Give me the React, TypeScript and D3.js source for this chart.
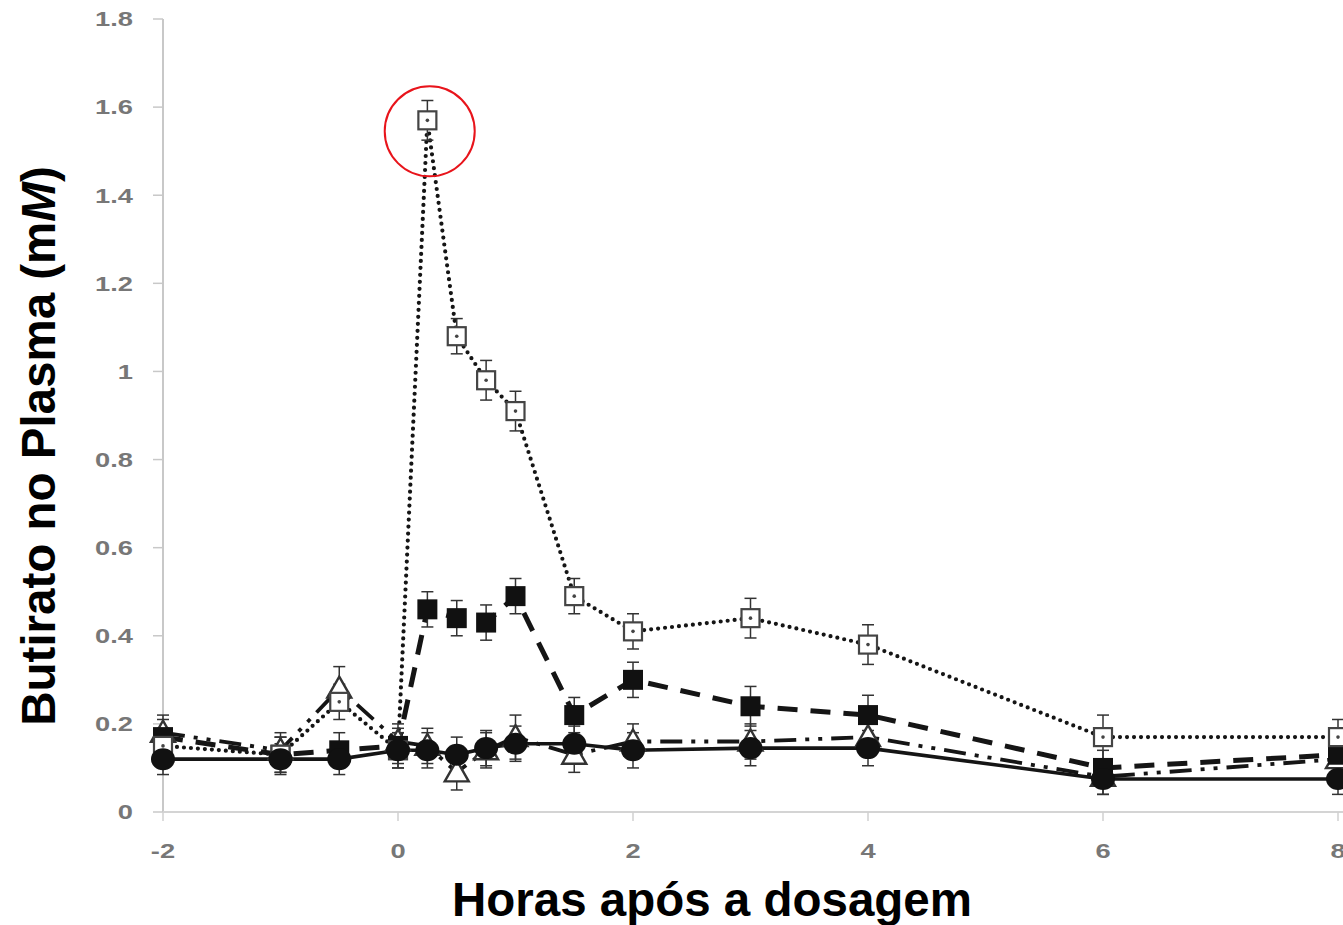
import React from "react";
import * as d3 from "d3";

const hours = [-2, -1, -0.5, 0, 0.25, 0.5, 0.75, 1, 1.5, 2, 3, 4, 6, 8];
const openSquare = [0.15, 0.13, 0.25, 0.14, 1.57, 1.08, 0.98, 0.91, 0.49, 0.41, 0.44, 0.38, 0.17, 0.17];
const openSquareErr = [0.04, 0.04, 0.04, 0.04, 0.045, 0.04, 0.045, 0.045, 0.04, 0.04, 0.045, 0.045, 0.05, 0.04];
const filledSquare = [0.17, 0.13, 0.14, 0.15, 0.46, 0.44, 0.43, 0.49, 0.22, 0.3, 0.24, 0.22, 0.1, 0.13];
const filledSquareErr = [0.04, 0.04, 0.04, 0.04, 0.04, 0.04, 0.04, 0.04, 0.04, 0.04, 0.045, 0.045, 0.04, 0.04];
const openTriangle = [0.18, 0.14, 0.28, 0.16, 0.15, 0.09, 0.14, 0.17, 0.13, 0.16, 0.16, 0.17, 0.08, 0.12];
const openTriangleErr = [0.04, 0.04, 0.05, 0.04, 0.04, 0.04, 0.04, 0.05, 0.04, 0.04, 0.04, 0.04, 0.04, 0.04];
const filledCircle = [0.12, 0.12, 0.12, 0.14, 0.14, 0.13, 0.145, 0.155, 0.155, 0.14, 0.145, 0.145, 0.075, 0.075];
const filledCircleErr = [0.035, 0.035, 0.035, 0.04, 0.04, 0.04, 0.04, 0.04, 0.04, 0.04, 0.04, 0.04, 0.035, 0.035];

const yTicks = [0, 0.2, 0.4, 0.6, 0.8, 1, 1.2, 1.4, 1.6, 1.8];
const xTicks = [-2, 0, 2, 4, 6, 8];
const xTitle = "Horas após a dosagem";
const highlight = { hour: 0.27, value: 1.545 };

const W = 1343;
const H = 925;

export default function App() {
  const x = d3.scaleLinear().domain([-2, 8]).range([163, 1338]);
  const y = d3.scaleLinear().domain([0, 1.8]).range([812, 19]);
  const line = d3
    .line<number>()
    .x((_, i) => x(hours[i]))
    .y((v) => y(v));

  const series = [
    { key: "tri", values: openTriangle, err: openTriangleErr, dash: "22 9 4 9 4 9", width: 3.8, cap: "butt" },
    { key: "fsq", values: filledSquare, err: filledSquareErr, dash: "20 13", width: 5, cap: "butt" },
    { key: "osq", values: openSquare, err: openSquareErr, dash: "0 7", width: 4.2, cap: "round" },
    { key: "cir", values: filledCircle, err: filledCircleErr, dash: "none", width: 3.6, cap: "butt" },
  ];

  const markerFor = (key: string, cx: number, cy: number, i: number) => {
    if (key === "osq")
      return (
        <g key={key + i}>
          <rect x={cx - 9} y={cy - 9} width={18} height={18} fill="#fff" stroke="#444" strokeWidth={2.2} />
          <circle cx={cx} cy={cy} r={1.8} fill="#444" />
        </g>
      );
    if (key === "fsq")
      return <rect key={key + i} x={cx - 10} y={cy - 10} width={20} height={20} fill="#111" />;
    if (key === "tri")
      return (
        <path
          key={key + i}
          d={`M${cx},${cy - 12} L${cx + 12},${cy + 9} L${cx - 12},${cy + 9} Z`}
          fill="#fff"
          stroke="#333"
          strokeWidth={2.4}
        />
      );
    return <ellipse key={key + i} cx={cx} cy={cy} rx={12} ry={11} fill="#111" />;
  };

  return (
    <div style={{ position: "absolute", left: 0, top: 0, width: W, height: H, background: "#fff" }}>
      <svg width={W} height={H} style={{ display: "block" }}>
        <rect width={W} height={H} fill="#fff" />
        {/* axes */}
        <line x1={x(-2)} x2={x(-2)} y1={y(1.8)} y2={y(0)} stroke="#c8c8c8" strokeWidth={2} />
        <line x1={x(-2)} x2={W} y1={y(0)} y2={y(0)} stroke="#d4d4d4" strokeWidth={2} />
        {yTicks.map((t) => (
          <g key={"yt" + t}>
            <line x1={x(-2) - 10} x2={x(-2)} y1={y(t)} y2={y(t)} stroke="#c8c8c8" strokeWidth={1.5} />
            <text
              transform={`translate(133,${y(t)}) scale(1.3,1)`}
              textAnchor="end"
              dominantBaseline="central"
              fontFamily="Liberation Sans, Arial, sans-serif"
              fontWeight="bold"
              fontSize={21}
              fill="#777"
            >
              {String(t)}
            </text>
          </g>
        ))}
        {xTicks.map((t) => (
          <g key={"xt" + t}>
            <line x1={x(t)} x2={x(t)} y1={y(0)} y2={y(0) + 9} stroke="#d0d0d0" strokeWidth={1.5} />
            <text
              transform={`translate(${x(t)},851) scale(1.3,1)`}
              textAnchor="middle"
              dominantBaseline="central"
              fontFamily="Liberation Sans, Arial, sans-serif"
              fontWeight="bold"
              fontSize={21}
              fill="#777"
            >
              {String(t)}
            </text>
          </g>
        ))}
        {/* lines */}
        {series.map((s) => (
          <path
            key={"l" + s.key}
            d={line(s.values) || ""}
            fill="none"
            stroke="#151515"
            strokeWidth={s.width}
            strokeDasharray={s.dash}
            strokeLinecap={s.cap as any}
          />
        ))}
        {/* error bars */}
        {series.map((s) =>
          s.values.map((v, i) => {
            const cx = x(hours[i]);
            const top = y(v + s.err[i]);
            const bot = y(v - s.err[i]);
            return (
              <g key={"e" + s.key + i} stroke="#333" strokeWidth={1.5}>
                <line x1={cx} x2={cx} y1={top} y2={bot} />
                <line x1={cx - 6} x2={cx + 6} y1={top} y2={top} />
                <line x1={cx - 6} x2={cx + 6} y1={bot} y2={bot} />
              </g>
            );
          })
        )}
        {/* markers */}
        {series.map((s) => s.values.map((v, i) => markerFor(s.key, x(hours[i]), y(v), i)))}
        {/* highlight circle */}
        <circle cx={x(highlight.hour)} cy={y(highlight.value)} r={45} fill="none" stroke="#e8141b" strokeWidth={2} />
        {/* titles */}
        <text
          transform={`translate(55,446) rotate(-90)`}
          textAnchor="middle"
          fontFamily="Liberation Sans, Arial, sans-serif"
          fontWeight="bold"
          fontSize={47.5}
          fill="#000"
        >
          Butirato no Plasma (m<tspan fontStyle="italic">M</tspan>)
        </text>
        <text
          x={712}
          y={916}
          textAnchor="middle"
          fontFamily="Liberation Sans, Arial, sans-serif"
          fontWeight="bold"
          fontSize={47.5}
          fill="#000"
        >
          {xTitle}
        </text>
      </svg>
    </div>
  );
}
